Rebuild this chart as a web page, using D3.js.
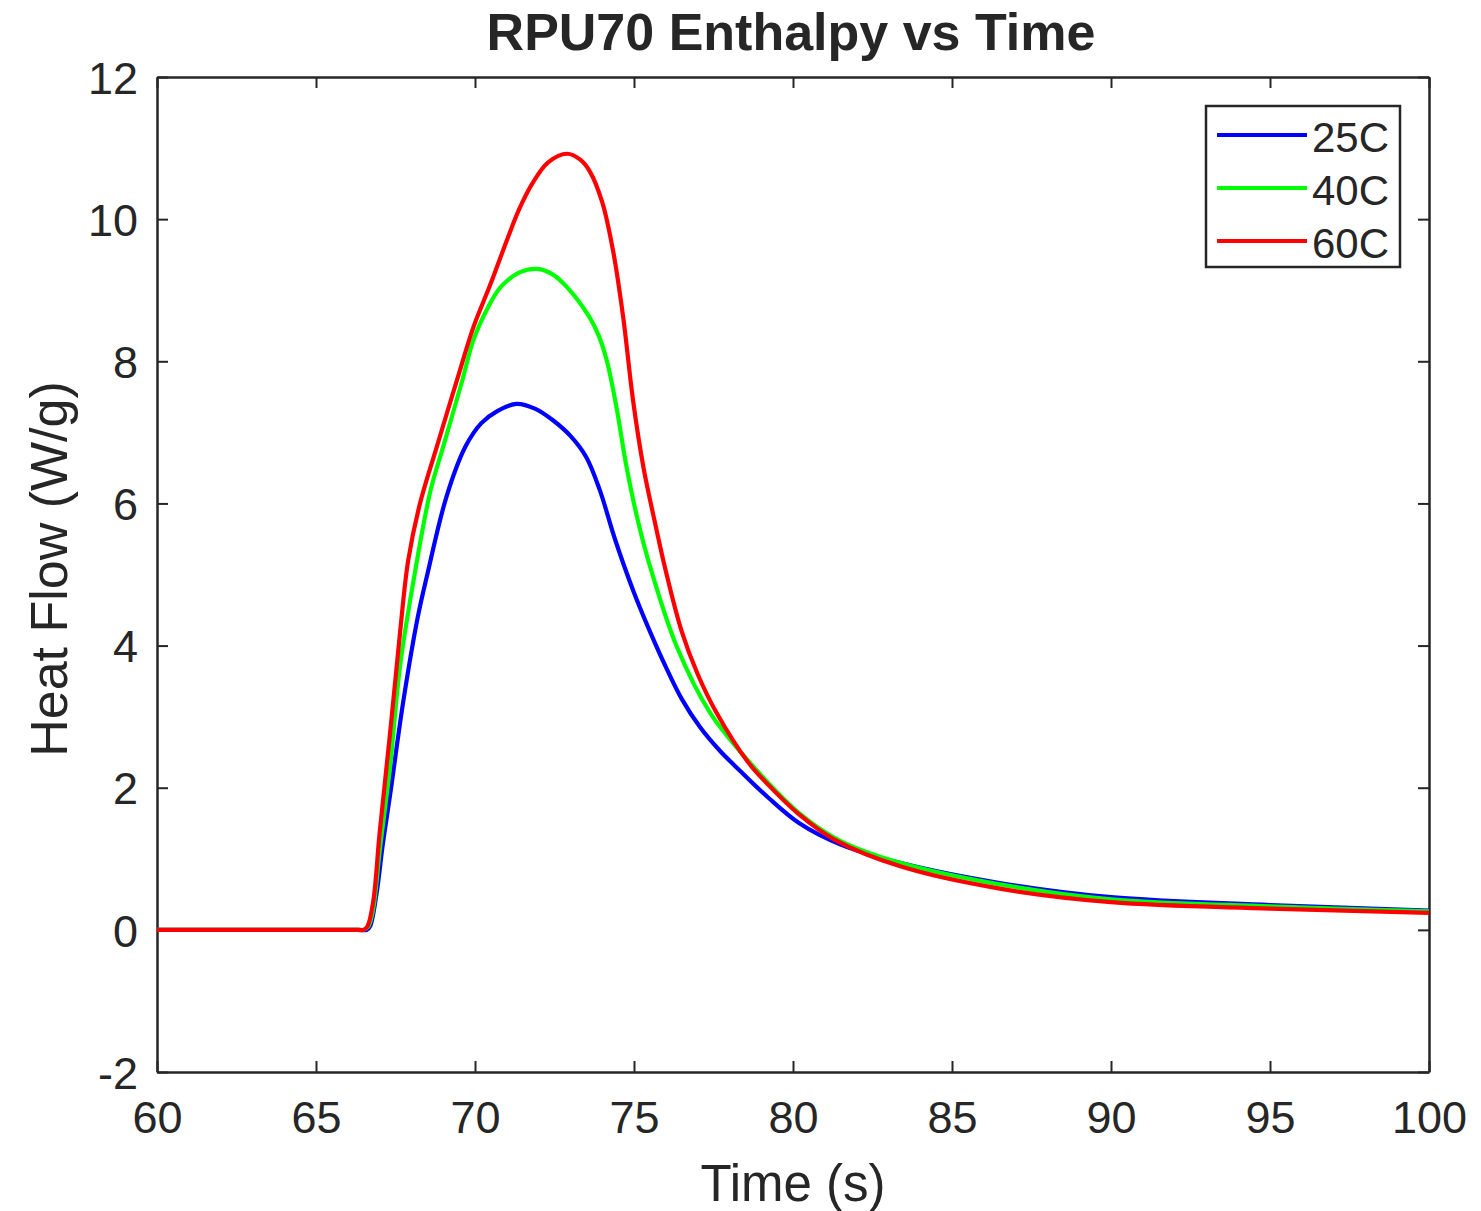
<!DOCTYPE html>
<html>
<head>
<meta charset="utf-8">
<script src="https://cdn.jsdelivr.net/npm/d3@7"></script>
<style>
  body { margin: 0; background: #fff; }
  svg text { font-family: "Liberation Sans", Arial, sans-serif; fill: #262626; }
</style>
</head>
<body>
<svg id="chart" width="1481" height="1211"></svg>
<script>
// values (time in s, heat flow in W/g)
const t25 = [60, 66.35, 66.6, 66.7, 66.9, 67.1, 67.33, 67.75, 68.2, 68.5, 69.1, 69.7, 70.2, 70.7, 71.3, 71.9, 72.45, 73.0, 73.5, 73.93, 74.4, 74.97, 75.5, 76.0, 76.5, 77.08, 77.7, 78.33, 79.2, 80.2, 81.5, 83.4, 86.5, 90, 95, 100];
const v25 = [0, 0, 0, 0.05, 0.5, 1.2, 1.9, 3.23, 4.4, 5.0, 6.09, 6.8, 7.13, 7.3, 7.4, 7.33, 7.17, 6.95, 6.65, 6.18, 5.5, 4.78, 4.2, 3.7, 3.25, 2.85, 2.52, 2.24, 1.87, 1.5, 1.2, 0.94, 0.66, 0.46, 0.35, 0.27];

const t40 = [60, 66.35, 66.5, 66.65, 66.8, 67.0, 67.33, 67.64, 68.1, 68.6, 69.0, 69.6, 69.95, 70.4, 70.8, 71.4, 71.95, 72.45, 72.9, 73.6, 73.9, 74.15, 74.45, 74.75, 75.1, 75.5, 76.35, 77.4, 78.65, 80.2, 81.5, 83.4, 86.5, 90, 95, 100];
const v40 = [0, 0, 0, 0.05, 0.3, 1.1, 2.3, 3.7, 5.0, 6.18, 6.8, 7.73, 8.3, 8.75, 9.04, 9.25, 9.3, 9.22, 9.04, 8.62, 8.35, 8.0, 7.35, 6.55, 5.8, 5.12, 3.98, 3.05, 2.35, 1.64, 1.25, 0.94, 0.64, 0.43, 0.33, 0.26];

const t60 = [60, 66.3, 66.5, 66.62, 66.8, 67.0, 67.33, 67.64, 67.9, 68.27, 68.8, 69.43, 69.95, 70.5, 71.0, 71.4, 71.8, 72.3, 72.9, 73.3, 73.6, 74.0, 74.34, 74.66, 74.97, 75.3, 75.65, 76.0, 76.5, 77.0, 77.6, 78.6, 79.2, 80.2, 81.3, 83.4, 86.5, 90, 95, 100];
const v60 = [0, 0, 0, 0.05, 0.4, 1.36, 2.77, 4.17, 5.2, 6.0, 6.8, 7.73, 8.48, 9.1, 9.7, 10.15, 10.5, 10.8, 10.92, 10.84, 10.68, 10.24, 9.56, 8.62, 7.45, 6.5, 5.75, 5.05, 4.2, 3.6, 3.05, 2.35, 2.05, 1.62, 1.27, 0.89, 0.58, 0.39, 0.3, 0.24];

const seriesNames = ["25C", "40C", "60C"];
const seriesColors = ["#0000ff", "#00ff00", "#ff0000"];
const xTicks = [60, 65, 70, 75, 80, 85, 90, 95, 100];
const yTicks = [-2, 0, 2, 4, 6, 8, 10, 12];

const series = [
  {name: seriesNames[0], color: seriesColors[0], pts: t25.map((t, i) => [t, v25[i]])},
  {name: seriesNames[1], color: seriesColors[1], pts: t40.map((t, i) => [t, v40[i]])},
  {name: seriesNames[2], color: seriesColors[2], pts: t60.map((t, i) => [t, v60[i]])}
];

const svg = d3.select("#chart");
const mLeft = 157, mRight = 1429, mTop = 77, mBottom = 1072;

const x = d3.scaleLinear().domain([60, 100]).range([mLeft, mRight]);
const y = d3.scaleLinear().domain([-2, 12]).range([mBottom, mTop]);

const axColor = "#262626";
const fmt = d => String(d);   // plain hyphen for -2, like matlab

// axes, ticks point inwards like matlab
const gx = svg.append("g").attr("transform", `translate(0,${mBottom})`)
  .call(d3.axisBottom(x).tickValues(xTicks).tickFormat(fmt).tickSizeInner(-11).tickSizeOuter(0).tickPadding(29));
const gy = svg.append("g").attr("transform", `translate(${mLeft},0)`)
  .call(d3.axisLeft(y).tickValues(yTicks).tickFormat(fmt).tickSizeInner(-11).tickSizeOuter(0).tickPadding(19));
const gt = svg.append("g").attr("transform", `translate(0,${mTop})`)
  .call(d3.axisTop(x).tickValues(xTicks).tickSizeInner(-11).tickSizeOuter(0).tickFormat(""));
const gr = svg.append("g").attr("transform", `translate(${mRight},0)`)
  .call(d3.axisRight(y).tickValues(yTicks).tickSizeInner(-11).tickSizeOuter(0).tickFormat(""));

[gx, gy, gt, gr].forEach(g => {
  g.select(".domain").attr("stroke", axColor).attr("stroke-width", 2.5);
  g.selectAll(".tick line").attr("stroke", axColor).attr("stroke-width", 2);
  g.selectAll(".tick text").style("font-size", "45px").attr("fill", axColor);
});
gx.selectAll(".tick text").attr("dy", "0.71em");
gy.selectAll(".tick text").attr("dy", "0.36em");

// curves, smoothed through the read points
const line = d3.line().x(d => x(d[0])).y(d => y(d[1])).curve(d3.curveCatmullRom.alpha(0.5));
svg.append("g").selectAll("path")
  .data(series)
  .join("path")
  .attr("d", d => line(d.pts))
  .attr("fill", "none")
  .attr("stroke", d => d.color)
  .attr("stroke-width", 4.2)
  .attr("stroke-linejoin", "round");

// title and axis labels
svg.append("text").attr("x", 791).attr("y", 50).attr("text-anchor", "middle")
  .style("font-size", "52px").style("font-weight", "bold").attr("fill", "#000")
  .text("RPU70 Enthalpy vs Time");
svg.append("text").attr("x", 793).attr("y", 1201).attr("text-anchor", "middle")
  .style("font-size", "51px").text("Time (s)");
svg.append("text").attr("transform", "translate(67,569) rotate(-90)").attr("text-anchor", "middle")
  .style("font-size", "52px").text("Heat Flow (W/g)");

// legend
const lg = svg.append("g");
lg.append("rect").attr("x", 1206).attr("y", 106).attr("width", 194).attr("height", 161)
  .attr("fill", "#fff").attr("stroke", "#262626").attr("stroke-width", 2.5);
const items = lg.selectAll("g.item").data(series).join("g").attr("class", "item")
  .attr("transform", (d, i) => `translate(0,${135 + i * 53})`);
items.append("line").attr("x1", 1217).attr("x2", 1307)
  .attr("stroke", d => d.color).attr("stroke-width", 4.2);
items.append("text").attr("x", 1312).attr("y", 2).attr("dy", "0.36em")
  .style("font-size", "42px").attr("fill", "#000").text(d => d.name);
</script>
</body>
</html>
